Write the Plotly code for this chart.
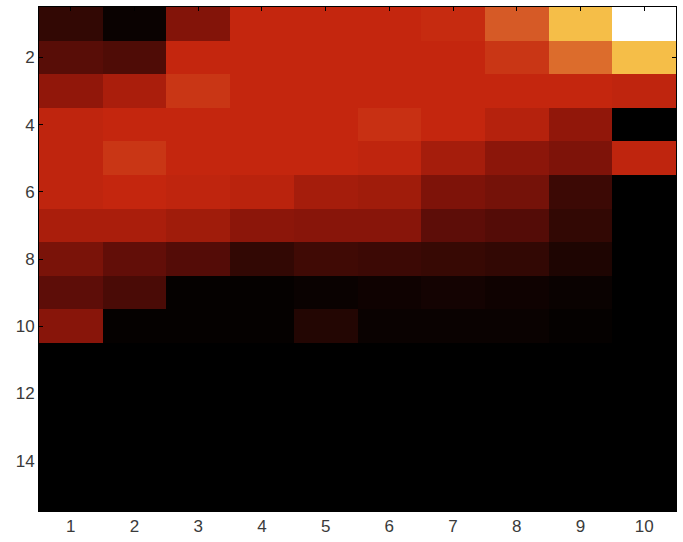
import plotly.graph_objects as go

# Column and row indices of the grid
columns = list(range(1, 11))
rows = list(range(1, 16))

# Cell intensities, one list per row (row 1 at the top), normalised to 0..1
row01 = [0.10, 0.02, 0.27, 0.40, 0.40, 0.40, 0.41, 0.50, 0.80, 1.00]
row02 = [0.18, 0.16, 0.40, 0.40, 0.40, 0.40, 0.40, 0.43, 0.55, 0.80]
row03 = [0.30, 0.35, 0.43, 0.40, 0.40, 0.40, 0.40, 0.40, 0.40, 0.39]
row04 = [0.39, 0.40, 0.40, 0.40, 0.40, 0.42, 0.40, 0.37, 0.30, 0.00]
row05 = [0.39, 0.43, 0.40, 0.40, 0.40, 0.39, 0.34, 0.29, 0.26, 0.39]
row06 = [0.39, 0.40, 0.39, 0.38, 0.34, 0.33, 0.26, 0.24, 0.12, 0.00]
row07 = [0.35, 0.35, 0.33, 0.29, 0.28, 0.28, 0.19, 0.17, 0.10, 0.00]
row08 = [0.25, 0.20, 0.17, 0.10, 0.13, 0.12, 0.11, 0.10, 0.06, 0.00]
row09 = [0.19, 0.15, 0.01, 0.01, 0.02, 0.03, 0.04, 0.03, 0.02, 0.00]
row10 = [0.28, 0.01, 0.01, 0.01, 0.07, 0.02, 0.02, 0.02, 0.01, 0.00]
row11 = [0.00, 0.00, 0.00, 0.00, 0.00, 0.00, 0.00, 0.00, 0.00, 0.00]
row12 = [0.00, 0.00, 0.00, 0.00, 0.00, 0.00, 0.00, 0.00, 0.00, 0.00]
row13 = [0.00, 0.00, 0.00, 0.00, 0.00, 0.00, 0.00, 0.00, 0.00, 0.00]
row14 = [0.00, 0.00, 0.00, 0.00, 0.00, 0.00, 0.00, 0.00, 0.00, 0.00]
row15 = [0.00, 0.00, 0.00, 0.00, 0.00, 0.00, 0.00, 0.00, 0.00, 0.00]

values = [row01, row02, row03, row04, row05, row06, row07, row08,
          row09, row10, row11, row12, row13, row14, row15]

# Tick positions shown on each axis
x_ticks = columns
y_ticks = [2, 4, 6, 8, 10, 12, 14]

# "hot"-style colour ramp: black -> red -> orange -> yellow -> white
hot_scale = [
    [0.00, "rgb(0,0,0)"],
    [0.10, "rgb(50,8,4)"],
    [0.20, "rgb(98,14,8)"],
    [0.30, "rgb(145,23,10)"],
    [0.40, "rgb(196,38,14)"],
    [0.50, "rgb(214,90,38)"],
    [0.60, "rgb(226,126,50)"],
    [0.80, "rgb(245,190,72)"],
    [1.00, "rgb(255,255,255)"],
]

fig = go.Figure(
    go.Heatmap(
        z=values,
        x=columns,
        y=rows,
        colorscale=hot_scale,
        zmin=0,
        zmax=1,
        showscale=False,
    )
)

axis_font = dict(family="Liberation Sans, Arial, sans-serif", size=17, color="#3a3a3a")

fig.update_xaxes(
    tickmode="array",
    tickvals=x_ticks,
    range=[0.5, 10.5],
    ticks="inside",
    ticklen=4,
    tickcolor="black",
    mirror="ticks",
    showline=True,
    linecolor="black",
    linewidth=1,
    showgrid=False,
    zeroline=False,
    tickfont=axis_font,
)
fig.update_yaxes(
    tickmode="array",
    tickvals=y_ticks,
    range=[15.5, 0.5],
    ticks="inside",
    ticklen=4,
    tickcolor="black",
    mirror="ticks",
    showline=True,
    linecolor="black",
    linewidth=1,
    showgrid=False,
    zeroline=False,
    tickfont=axis_font,
)

fig.update_layout(
    width=683,
    height=542,
    margin=dict(l=39, r=6, t=6, b=27),
    paper_bgcolor="white",
    plot_bgcolor="black",
)

fig.write_html("out.html")
